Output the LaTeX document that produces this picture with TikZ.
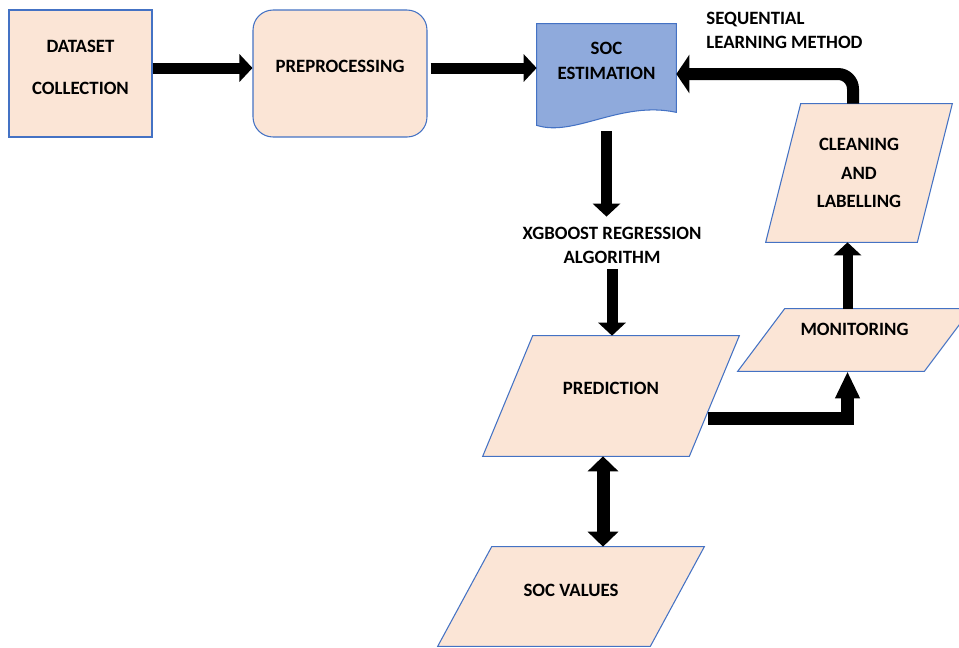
\documentclass[tikz,border=0pt]{standalone}
\usepackage{fontspec}
\setmainfont{Carlito}
\usetikzlibrary{arrows.meta,calc,backgrounds}

\definecolor{peach}{HTML}{FBE5D6}
\definecolor{edgeblue}{HTML}{4472C4}
\definecolor{socblue}{HTML}{8FAADC}

\begin{document}
\begin{tikzpicture}[x=0.02cm, y=-0.02cm,
	every node/.style={font=\bfseries\fontsize{10.7}{14}\selectfont, align=center},
	block/.style={draw=edgeblue, fill=peach, line width=0.6pt},
	outline/.style={draw=edgeblue, fill=#1, line width=0.6pt},
	flow/.style={line width=0.22cm, -{Triangle[length=0.26cm, width=0.54cm]}},
]

% White page, same size as the original
\begin{scope}[on background layer]
	\fill[white] (0,0) rectangle (959,647);
\end{scope}
\useasboundingbox (0,0) rectangle (959,647);

% Slanted boxes
\newcommand{\slantbox}[5]{
	\node[#3] (#1) at (#2) {#5};
	\begin{scope}[on background layer]
		\draw[outline=peach] ($(#1.north west)+(#4,0)$) -- (#1.north east)
			-- ($(#1.south east)-(#4,0)$) -- (#1.south west) -- cycle;
	\end{scope}
}

% Boxes
\node[block, minimum width=2.86cm, minimum height=2.54cm, text depth=0.26cm]
	(data) at (80.5,73.5) {DATASET\\[10pt]COLLECTION};
\node[block, rounded corners=0.4cm, minimum width=3.48cm, minimum height=2.54cm, text depth=0.3cm]
	(prep) at (340,73.5) {PREPROCESSING};
\node[minimum width=2.78cm, minimum height=1.76cm, text depth=0.28cm]
	(soc) at (606.5,68) {SOC\\ESTIMATION};
\begin{scope}[on background layer]
	\draw[outline=socblue] (soc.north west) -- (soc.north east) -- (soc.south east)
		.. controls ($(soc.south east)+(-56,-12)$) and ($(soc.south west)+(38,25)$)
		.. ($(soc.south west)+(0,13)$) -- cycle;
\end{scope}

\slantbox {pred}  {611,396}   {minimum width=5.12cm, minimum height=2.4cm, text depth=0.32cm}  {50} {PREDICTION}
\slantbox {vals}  {571,596.5} {minimum width=5.32cm, minimum height=1.98cm, text depth=0.26cm} {54} {SOC VALUES}
\slantbox {mon}   {854.5,340} {minimum width=4.66cm, minimum height=1.24cm, text depth=0.44cm} {47} {MONITORING}
\slantbox {clean} {859,173}   {minimum width=3.72cm, minimum height=2.76cm}                    {35} {CLEANING\\[2.2pt]AND\\[2.2pt]LABELLING}

% Labels
\node[inner sep=0.1cm] (xg) at (612,245.5) {XGBOOST REGRESSION\\ALGORITHM};
\node[anchor=west, align=left, inner sep=0pt] (seq) at (706,30.5) {SEQUENTIAL\\LEARNING METHOD};

% Arrows
\coordinate (socout) at ($(soc.south)+(0,19)$);
\coordinate (xgin)   at ($(soc.south |- xg.north)+(0,-5)$);
\coordinate (pv)     at ($(pred.south)+(-8,0)$);
\coordinate (pm)     at ($(pred.east)+(-31,22)$);
\coordinate (mout)   at ($(mon.north)+(-7,0)$);
\coordinate (min)    at ($(mon.south)+(-7,0)$);
\coordinate (fb)     at ($(clean.north)+(-6,0)$);
\coordinate (socin)  at ($(soc.east)+(0,6)$);

\draw[flow] (data.east |- soc.west) -- (prep.west |- soc.west);
\draw[flow] ($(prep.east |- soc.west)+(3,0)$) -- (soc.west);
\draw[flow] (socout) -- (xgin);
\draw[flow] (xg.south) -- (xg.south |- pred.north);
\draw[line width=0.26cm, {Triangle[length=0.3cm, width=0.6cm]}-{Triangle[length=0.3cm, width=0.6cm]}]
	(pv) -- (pv |- vals.north);
\draw[line width=0.26cm, line join=miter, -{Triangle[length=0.54cm, width=0.46cm]}]
	(pm) -| (min);
\draw[flow, line width=0.2cm] (mout) -- (mout |- clean.south);
\draw[line width=0.24cm, rounded corners=0.3cm, -{Triangle[length=0.26cm, width=0.76cm]}]
	(fb) |- (socin);
\end{tikzpicture}
\end{document}
